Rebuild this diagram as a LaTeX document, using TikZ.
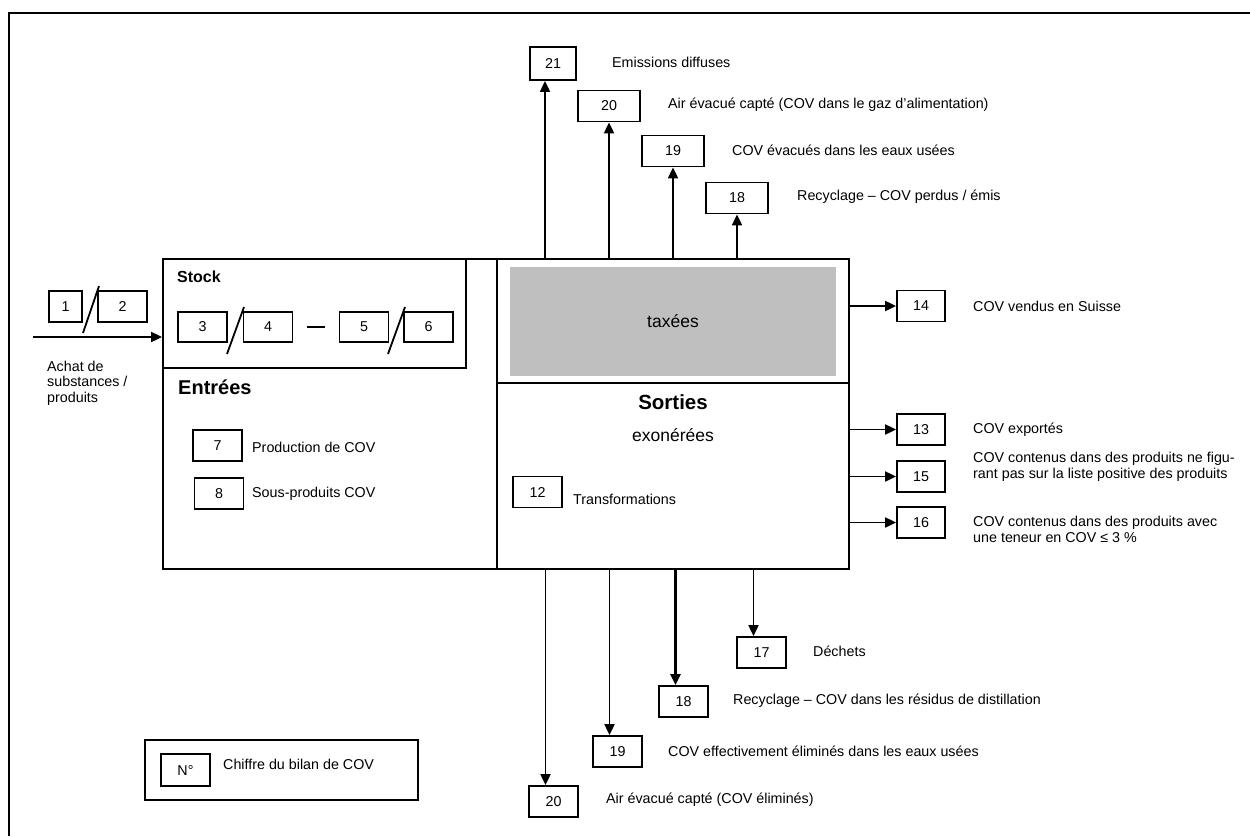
\documentclass[tikz,border=0pt]{standalone}
\usepackage{fontspec}
\setmainfont{Liberation Sans}
\usetikzlibrary{arrows.meta}
\tikzset{
  numbox/.style={draw, line width=1.8pt, minimum width=49pt, minimum height=31pt, inner sep=0pt, font=\fontsize{14.3}{16}\selectfont},
  lbl/.style={anchor=west, inner sep=0pt, align=left, font=\fontsize{14.3}{15.5}\selectfont},
  flow/.style={line width=1.9pt, -{Triangle[length=11pt,width=10pt]}},
  wall/.style={draw, line width=1.8pt, inner sep=0pt},
}
\begin{document}
\begin{tikzpicture}[x=1pt,y=-1pt]
    \useasboundingbox (0,0) rectangle (1250,836);
    \draw [line width=2.6pt] (9,836)--(9,13)--(1250,13);
    % main block
    \node [wall, minimum width=686pt, minimum height=310pt] (main) at (506,414) {};
    \node [wall, minimum width=303pt, minimum height=109pt] (stock) at (314.5,313.5) {};
    \draw [line width=1.8pt] (497,259)--(497,569);
    \draw [line width=1.8pt] (497,383)--(849,383);
    \node [fill=gray!50, minimum width=326pt, minimum height=109pt, inner sep=0pt, font=\fontsize{17.5}{20}\selectfont] (tax) at (673,321.5) {taxées};
    \node [anchor=west, inner sep=0pt, font=\fontsize{16}{18}\selectfont\bfseries] (stocktitle) at (177,277) {Stock};
    \node [anchor=west, inner sep=0pt, font=\fontsize{20}{22}\selectfont\bfseries] (intitle) at (178,387) {Entrées};
    \node [inner sep=0pt, font=\fontsize{20.5}{22}\selectfont\bfseries] (outtitle) at (673,402) {Sorties};
    \node [inner sep=0pt, font=\fontsize{17.5}{20}\selectfont] (exo) at (673,435) {exonérées};
    % purchase
    \node [numbox, minimum width=33pt] (n1) at (65.5,306.5) {1};
    \node [numbox] (n2) at (122.5,306.5) {2};
    \draw [line width=1.8pt] (83,333)--(99,286);
    \coordinate (buy) at (33,337);
    \draw [flow] (buy)--(buy -| main.west);
    \node [lbl] (buytext) at (47,383) {Achat de\\substances /\\produits};
    % stock
    \node [numbox, minimum height=30pt] (n3) at (202.5,327) {3};
    \node [numbox, minimum height=30pt] (n4) at (268,327) {4};
    \node [numbox, minimum height=30pt] (n5) at (364,327) {5};
    \node [numbox, minimum height=30pt] (n6) at (428.5,327) {6};
    \draw [line width=1.8pt] (227,354)--(244,307);
    \draw [line width=1.8pt] (388,354)--(405,307);
    \draw [line width=1.8pt] (n4.east)++(14,0)--++(18,0);
    % inputs
    \node [numbox] (n7) at (217.5,445.5) {7};
    \node [lbl] at (252,447) {Production de COV};
    \node [numbox] (n8) at (219,493.5) {8};
    \node [lbl] at (252,494) {Sous-produits COV};
    \node [numbox] (n12) at (537.5,492) {12};
    \node [lbl] at (573,499) {Transformations};
    % taxed outputs, top
    \node [numbox, minimum width=46pt, minimum height=33pt] (o21) at (553,63.5) {21};
    \node [lbl] at (612,62) {Emissions diffuses};
    \node [numbox, minimum width=62pt] (o20) at (609,106) {20};
    \node [lbl] at (668,105) {Air évacué capté (COV dans le gaz d'alimentation)};
    \node [numbox, minimum width=62pt] (o19) at (673,151) {19};
    \node [lbl] at (732,150) {COV évacués dans les eaux usées};
    \node [numbox, minimum width=62pt] (o18) at (737,198) {18};
    \node [lbl] at (797,197) {Recyclage – COV perdus / émis};
    \coordinate (t21) at ([xshift=-8pt]o21.south);
    \draw [flow] (t21 |- main.north)--(t21);
    \foreach \n in {20,19,18}
        \draw [flow] (o\n |- main.north)--(o\n.south);
    % outputs, right
    \node [numbox, minimum width=48pt] (r14) at (921,306) {14};
    \node [lbl] at (973,306) {COV vendus en Suisse};
    \node [numbox, minimum width=48pt] (r13) at (921,429.5) {13};
    \node [lbl] at (973,430) {COV exportés};
    \node [numbox, minimum width=48pt] (r15) at (921,476.5) {15};
    \node [lbl] at (973,467) {COV contenus dans des produits ne figu-\\rant pas sur la liste positive des produits};
    \node [numbox, minimum width=48pt] (r16) at (921,522.5) {16};
    \node [lbl] at (973,529.5) {COV contenus dans des produits avec\\une teneur en COV ≤ 3 \%};
    \foreach \n in {14,13,15,16}
        \draw [flow] (r\n -| main.east)--(r\n.west);
    % exempt outputs, bottom
    \node [numbox] (u17) at (761.5,652.5) {17};
    \node [lbl] at (813,651) {Déchets};
    \node [numbox] (u18) at (683.5,701.5) {18};
    \node [lbl] at (733,701) {Recyclage – COV dans les résidus de distillation};
    \node [numbox] (u19) at (617.5,751.5) {19};
    \node [lbl] at (668,751) {COV effectivement éliminés dans les eaux usées};
    \node [numbox] (u20) at (553.5,801.5) {20};
    \node [lbl] at (606,800) {Air évacué capté (COV éliminés)};
    \foreach \n in {20,19,17} {
        \coordinate (d\n) at ([xshift=-8pt]u\n.north);
        \draw [flow] (d\n |- main.south)--(d\n);
    }
    \coordinate (d18) at ([xshift=-8pt]u18.north);
    \draw [flow, line width=2.6pt] (d18 |- main.south)--(d18);
    % legend
    \node [wall, minimum width=273pt, minimum height=60pt] (legend) at (281.5,770) {};
    \node [numbox, minimum height=32pt] (nk) at (185.5,770) {N°};
    \node [lbl] at (223,764) {Chiffre du bilan de COV};
\end{tikzpicture}
\end{document}
